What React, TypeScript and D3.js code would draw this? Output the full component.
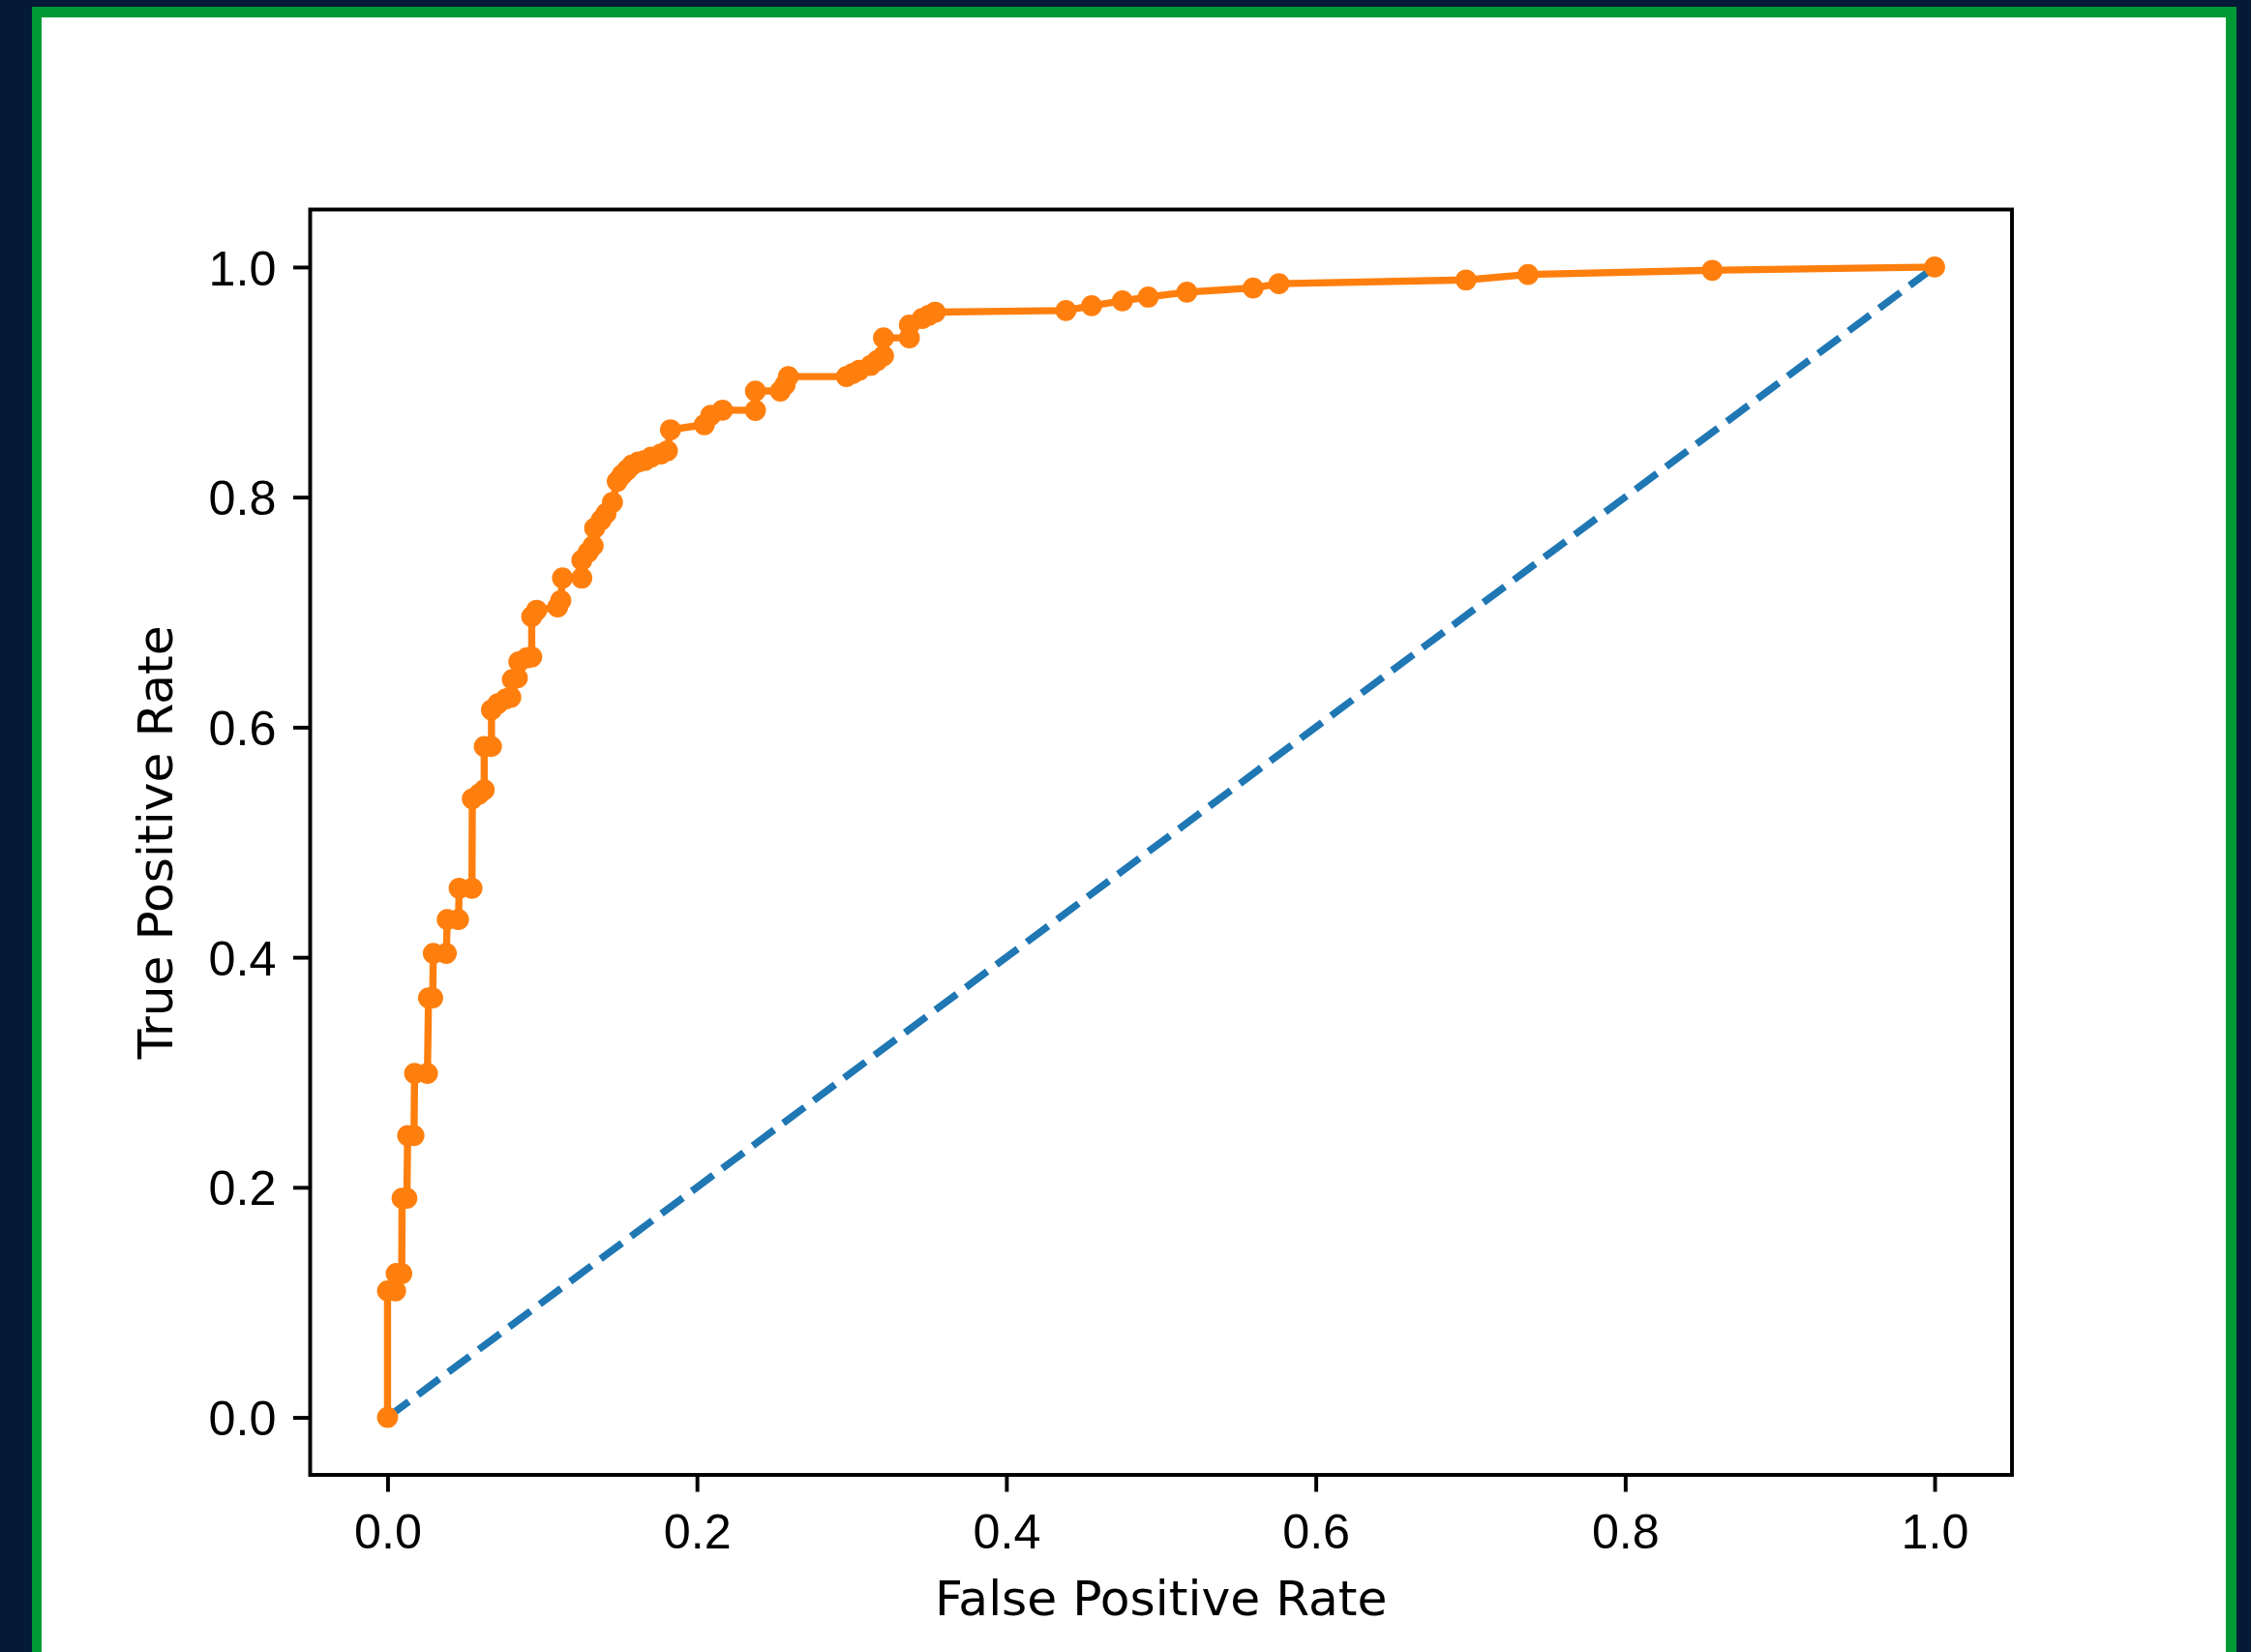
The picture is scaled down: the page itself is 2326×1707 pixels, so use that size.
import { useRef, useEffect } from 'react'
import * as d3 from 'd3'

// ROC-käyrän pisteet (luettu kuvasta)
const fpr = [
  0, 0, 0.0052, 0.0056, 0.0092, 0.0094, 0.0125, 0.013, 0.0171, 0.0175,
  0.0258, 0.0265, 0.0292, 0.0296, 0.038, 0.0386, 0.0459, 0.0463, 0.0546, 0.0548,
  0.0591, 0.0625, 0.0625, 0.0672, 0.0672, 0.0713, 0.0765, 0.0797, 0.0807, 0.0839,
  0.0849, 0.0901, 0.0932, 0.0932, 0.0964, 0.11, 0.112, 0.1131, 0.1256, 0.1256,
  0.1297, 0.1329, 0.1339, 0.1381, 0.1412, 0.1454, 0.1485, 0.1516, 0.1548, 0.1579,
  0.1621, 0.1663, 0.1704, 0.1767, 0.1809, 0.1829, 0.2048, 0.209, 0.2165, 0.2378,
  0.2378, 0.2539, 0.257, 0.2591, 0.2966, 0.3008, 0.3049, 0.3123, 0.3165, 0.3206,
  0.3206, 0.3373, 0.3373, 0.3456, 0.3498, 0.354, 0.4385, 0.4551, 0.475, 0.4917,
  0.5167, 0.5595, 0.5762, 0.6971, 0.7372, 0.8563, 1.0
]
const tpr = [
  0, 0.11, 0.11, 0.125, 0.125, 0.1905, 0.1905, 0.245, 0.245, 0.299,
  0.299, 0.3647, 0.3647, 0.4034, 0.4034, 0.4328, 0.4328, 0.46, 0.46, 0.5378,
  0.5418, 0.5455, 0.5832, 0.5832, 0.615, 0.6204, 0.6246, 0.626, 0.6414, 0.6429,
  0.6569, 0.6603, 0.6611, 0.6961, 0.7017, 0.7045, 0.7101, 0.7297, 0.7297, 0.7451,
  0.7521, 0.7577, 0.7731, 0.7801, 0.7857, 0.7955, 0.8137, 0.8193, 0.8235, 0.8277,
  0.8305, 0.8319, 0.8347, 0.8375, 0.8403, 0.8586, 0.863, 0.8712, 0.8756, 0.8754,
  0.8922, 0.8922, 0.8977, 0.9048, 0.9048, 0.9076, 0.9103, 0.9145, 0.9187, 0.9229,
  0.9384, 0.9384, 0.9496, 0.9552, 0.958, 0.9608, 0.9622, 0.9664, 0.9706, 0.9739,
  0.9782, 0.9818, 0.9855, 0.9888, 0.9935, 0.9972, 1.0
]

// "no skill" -diagonaali
const noSkillFpr = [0, 1]
const noSkillTpr = [0, 1]

const xTicks = [0, 0.2, 0.4, 0.6, 0.8, 1.0]
const yTicks = [0, 0.2, 0.4, 0.6, 0.8, 1.0]
const xLabel = 'False Positive Rate'
const yLabel = 'True Positive Rate'

const App = () => {
  const svgRef = useRef<SVGSVGElement>(null)

  useEffect(() => {
    drawChart()
  }, [])

  const drawChart = () => {
    const width = 2326
    const height = 1707
    const frame = { left: 320.5, right: 2079, top: 216.5, bottom: 1524 }
    const font = '"DejaVu Sans", sans-serif'
    const fontSize = '50.3px'
    const lw = 7.4
    const axisLw = 3.94
    const tickLen = 17.5

    const svg = d3.select(svgRef.current)
      .attr('width', width)
      .attr('height', height)
      .style('font-family', font)

    svg.selectAll('*').remove()

    // tausta + vihreä reunus
    svg.append('rect').attr('width', width).attr('height', height).attr('fill', '#041a37')
    svg.append('rect').attr('x', 33).attr('y', 7).attr('width', 2278).attr('height', 1740).attr('fill', '#009a35')
    svg.append('rect').attr('x', 43).attr('y', 18).attr('width', 2257).attr('height', 1720).attr('fill', '#ffffff')

    const x = d3.scaleLinear().domain([-0.05, 1.05]).range([frame.left, frame.right])
    const y = d3.scaleLinear().domain([-0.05, 1.05]).range([frame.bottom, frame.top])

    const line = d3.line<[number, number]>().x(d => x(d[0])).y(d => y(d[1]))

    // diagonaali (katkoviiva)
    const diag: [number, number][] = noSkillFpr.map((v, i) => [v, noSkillTpr[i]])
    svg.append('path')
      .attr('d', line(diag))
      .attr('fill', 'none')
      .attr('stroke', '#1f77b4')
      .attr('stroke-width', lw)
      .attr('stroke-dasharray', '27.4,11.8')

    // ROC-käyrä
    const roc: [number, number][] = fpr.map((v, i) => [v, tpr[i]])
    svg.append('path')
      .attr('d', line(roc))
      .attr('fill', 'none')
      .attr('stroke', '#ff7f0e')
      .attr('stroke-width', lw)
      .attr('stroke-linejoin', 'round')
      .attr('stroke-linecap', 'square')

    // pistemarkkerit
    svg.append('g')
      .selectAll('circle')
      .data(roc)
      .join('circle')
      .attr('cx', d => x(d[0]))
      .attr('cy', d => y(d[1]))
      .attr('r', 8.4)
      .attr('fill', '#ff7f0e')
      .attr('stroke', '#ff7f0e')
      .attr('stroke-width', 4.93)

    // x-akseli
    svg.append('g')
      .attr('transform', `translate(0, ${frame.bottom})`)
      .call(d3.axisBottom(x).tickValues(xTicks).tickFormat(d3.format('.1f')).tickSize(tickLen))
      .call(g => g.select('.domain').remove())
      .call(g => g.selectAll('.tick line').attr('stroke', '#000').attr('stroke-width', axisLw))
      .selectAll('text')
        .attr('y', 76)
        .attr('dy', null)
        .attr('fill', '#000')
        .style('font-size', fontSize)

    // y-akseli
    svg.append('g')
      .attr('transform', `translate(${frame.left}, 0)`)
      .call(d3.axisLeft(y).tickValues(yTicks).tickFormat(d3.format('.1f')).tickSize(tickLen))
      .call(g => g.select('.domain').remove())
      .call(g => g.selectAll('.tick line').attr('stroke', '#000').attr('stroke-width', axisLw))
      .selectAll('text')
        .attr('x', -35)
        .attr('dy', '0.36em')
        .attr('fill', '#000')
        .style('font-size', fontSize)

    // kehys
    svg.append('rect')
      .attr('x', frame.left)
      .attr('y', frame.top)
      .attr('width', frame.right - frame.left)
      .attr('height', frame.bottom - frame.top)
      .attr('fill', 'none')
      .attr('stroke', '#000')
      .attr('stroke-width', axisLw)

    // akselien otsikot
    svg.append('text')
      .text(xLabel)
      .attr('x', (frame.left + frame.right) / 2)
      .attr('y', 1669)
      .attr('text-anchor', 'middle')
      .attr('fill', '#000')
      .style('font-size', fontSize)

    svg.append('text')
      .text(yLabel)
      .attr('transform', `translate(178, ${(frame.top + frame.bottom) / 2}) rotate(-90)`)
      .attr('text-anchor', 'middle')
      .attr('fill', '#000')
      .style('font-size', fontSize)
  }

  return <svg ref={svgRef} style={{ position: 'absolute', left: 0, top: 0, display: 'block' }}></svg>
}

export default App
